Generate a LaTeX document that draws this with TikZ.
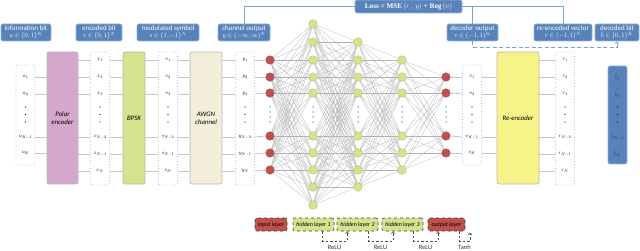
\documentclass[tikz,border=0pt]{standalone}
\usepackage{fontspec}
\setmainfont{Carlito}
\newfontfamily\lossfont{Liberation Serif}
\newcommand\smath[2]{\scalebox{#1}{\fontsize{10}{12}\selectfont$#2$}}
\usetikzlibrary{backgrounds,calc,arrows.meta}
\definecolor{lblue}{RGB}{88,130,186}
\definecolor{lblueedge}{RGB}{150,180,220}
\definecolor{conn}{RGB}{125,160,210}
\definecolor{polarc}{RGB}{212,168,204}
\definecolor{bpskc}{RGB}{214,226,140}
\definecolor{awgnc}{RGB}{243,238,218}
\definecolor{reencc}{RGB}{246,244,136}
\definecolor{redc}{RGB}{192,80,77}
\definecolor{greenc}{RGB}{214,226,140}
\definecolor{dotblue}{RGB}{70,114,196}
\definecolor{coledge}{RGB}{160,188,225}
\tikzset{
  lab/.style={rounded corners=2pt, fill=lblue, draw=lblueedge, line width=0.6pt, text=white, align=center, font=\fontsize{7}{7.4}\selectfont, inner sep=0pt, minimum height=17pt},
  colbox/.style={rounded corners=2pt, draw=coledge, dotted, line width=0.7pt, fill=white, inner sep=0pt, minimum width=19pt},
  block/.style={rounded corners=2pt, draw=gray!55, line width=0.7pt, inner sep=0pt, minimum height=132pt, align=center, font=\fontsize{6.8}{8}\selectfont\itshape},
  ent/.style={inner sep=0pt},
  conline/.style={draw=gray!45, line width=0.8pt},
  lossline/.style={draw=conn, line width=0.8pt},
  meshline/.style={draw=gray!60, line width=0.25pt},
  rcirc/.style={circle, fill=redc, draw=redc!85!black, line width=0.3pt, minimum size=8.6pt, inner sep=0pt},
  gcirc/.style={circle, fill=greenc, draw=greenc!80!black, line width=0.3pt, minimum size=8.6pt, inner sep=0pt},
  legbox/.style={rounded corners=2pt, draw=black!75, dashed, line width=0.6pt, minimum height=13pt, inner sep=0pt, font=\fontsize{6}{6}\selectfont\itshape},
  actarrow/.style={draw=black!70, dash pattern=on 2.5pt off 2pt, line width=0.5pt, -{Straight Barb[length=2pt,width=3.5pt]}},
  actlab/.style={font=\fontsize{6.5}{6.5}\selectfont, text=black!80, inner sep=0pt},
  bluedot/.style={circle, fill=dotblue, minimum size=1.5pt, inner sep=0pt},
  blackdot/.style={circle, fill=black, minimum size=1.3pt, inner sep=0pt},
}
\begin{document}
\begin{tikzpicture}[x=1pt,y=-1pt]
\useasboundingbox (0,0) rectangle (640,251);

% ---------- label boxes ----------
\node[lab, minimum width=50pt] (linfo) at (26,32.5) {information bit\\\smath{0.66}{u\in\{0,1\}^K}};
\node[lab, minimum width=46pt] (lenc) at (99,32.5) {encoded bit\\\smath{0.66}{x\in\{0,1\}^N}};
\node[lab, minimum width=62pt] (lmod) at (168,32.5) {modulated symbol\\\smath{0.66}{s\in\{1,-1\}^N}};
\node[lab, minimum width=52pt] (lchan) at (244,32.5) {channel output\\\smath{0.66}{y\in(-\infty,\infty)^N}};
\node[lab, minimum width=51pt] (ldec) at (472.5,32.5) {decoder output\\\smath{0.66}{v\in(-1,1)^K}};
\node[lab, minimum width=58pt] (lre) at (563,32.5) {re-encoded vector\\\smath{0.66}{r\in(-1,1)^N}};
\node[lab, minimum width=44pt] (lbit) at (617,32.5) {decoded bit\\\smath{0.66}{\hat{b}\in\{0,1\}^K}};
\node[lab, minimum width=107pt, minimum height=13pt, font=\fontsize{7.2}{7.2}\lossfont\bfseries] (loss) at (408.5,6.5) {Loss = MSE\,\smath{0.72}{(r\,,\,y)} + Reg\,\smath{0.72}{(v)}};

\draw[lossline] (lchan.north) |- (loss.west);
\draw[lossline] (loss.east) -| (lre.north);
\draw[lossline] (ldec.north) -- (ldec.north |- loss.east);
\draw[lossline, dash pattern=on 4pt off 2.5pt, -{Straight Barb[length=2pt,width=3.5pt]}] (ldec.south) -- ++(0,6) -| (lbit.south);

% ---------- blocks ----------
\node[block, fill=polarc, minimum width=31pt] (polar) at (62.5,118) {Polar\\encoder};
\node[block, fill=bpskc, minimum width=22pt] (bpsk) at (134,118) {BPSK};
\node[block, fill=awgnc, minimum width=32pt] (awgn) at (206,118) {AWGN\\channel};
\node[block, fill=reencc, minimum width=42pt] (reenc) at (518,118) {Re-encoder};

% ---------- columns ----------
\node[colbox, minimum height=100pt] (ucol) at (25.5,115) {};
\node[colbox, minimum height=133pt] (xcol) at (100,118.5) {};
\node[colbox, minimum height=133pt] (scol) at (168,118.5) {};
\node[colbox, minimum height=133pt] (ycol) at (245,118.5) {};
\node[colbox, minimum height=100pt] (vcol) at (472,115) {};
\node[colbox, minimum height=133pt] (rcol) at (565,118.5) {};
\node[rounded corners=2pt, fill=lblue, draw=lblueedge, line width=0.6pt, minimum width=19pt, minimum height=98pt, inner sep=0pt] (bcol) at (617.5,115) {};

% entries, N-type
\foreach \n/\yy/\lab in {1/60/1,2/77/2,3/94/3,4/137/{N-2},5/154/{N-1},6/171/N}{
  \node[ent] (x\n) at (100,\yy) {\smath{0.55}{x_{\lab}}};
  \node[ent] (s\n) at (168,\yy) {\smath{0.55}{s_{\lab}}};
  \node[ent] (y\n) at (245,\yy) {\smath{0.55}{y_{\lab}}};
  \node[ent] (r\n) at (565,\yy) {\smath{0.55}{r_{\lab}}};
}
% entries, K-type
\foreach \n/\yy/\lab in {1/77/1,2/94/2,3/137/{K-1},4/153/K}{
  \node[ent] (u\n) at (25.5,\yy) {\smath{0.55}{u_{\lab}}};
  \node[ent] (v\n) at (472,\yy) {\smath{0.55}{v_{\lab}}};
  \node[ent, text=black!80] (bh\n) at (617.5,\yy) {\smath{0.55}{\hat{b}_{\lab}}};
}
% vertical dots in columns
\foreach \cx in {25.5,100,168,245,472,565,617.5}{
  \foreach \dy in {107,114.5,122}{
    \node[blackdot] at (\cx,\dy) {};
  }
}

% ---------- connection lines ----------
\foreach \n in {1,...,4}{
  \draw[conline] (u\n -| ucol.east) -- (u\n -| polar.west);
  \draw[conline] (v\n -| vcol.east) -- (v\n -| reenc.west);
}
\foreach \n in {1,...,6}{
  \draw[conline] (x\n -| polar.east) -- (x\n -| xcol.west);
  \draw[conline] (x\n -| xcol.east) -- (x\n -| bpsk.west);
  \draw[conline] (s\n -| bpsk.east) -- (s\n -| scol.west);
  \draw[conline] (s\n -| scol.east) -- (s\n -| awgn.west);
  \draw[conline] (y\n -| awgn.east) -- (y\n -| ycol.west);
  \draw[conline] (r\n -| reenc.east) -- (r\n -| rcol.west);
}

% ---------- network ----------
\foreach \n/\yy in {1/60,2/77,3/93,4/136,5/153,6/170}{
  \node[rcirc] (in\n) at (270,\yy) {};
}
\foreach \n/\yy in {1/24,2/42,3/60,4/77,5/93,6/136,7/153,8/170,9/187,10/205}{
  \node[gcirc] (ha\n) at (313,\yy) {};
}
\foreach \n/\yy in {1/42,2/60,3/77,4/93,5/136,6/153,7/170,8/187}{
  \node[gcirc] (hb\n) at (358,\yy) {};
}
\foreach \n/\yy in {1/60,2/77,3/93,4/136,5/153,6/170}{
  \node[gcirc] (hc\n) at (402,\yy) {};
}
\foreach \n/\yy in {1/77,2/93,3/136,4/153}{
  \node[rcirc] (out\n) at (446,\yy) {};
}
\foreach \cx in {270,313,358,402,446}{
  \foreach \dy in {107,112,117,122}{
    \node[bluedot] at (\cx,\dy) {};
  }
}
\begin{scope}[on background layer]
\foreach \p in {1,...,6}{\foreach \q in {1,...,10}{\draw[meshline] (in\p.center) -- (ha\q.center);}}
\foreach \p in {1,...,10}{\foreach \q in {1,...,8}{\draw[meshline] (ha\p.center) -- (hb\q.center);}}
\foreach \p in {1,...,8}{\foreach \q in {1,...,6}{\draw[meshline] (hb\p.center) -- (hc\q.center);}}
\foreach \p in {1,...,6}{\foreach \q in {1,...,4}{\draw[meshline] (hc\p.center) -- (out\q.center);}}
\end{scope}
\foreach \n in {1,...,6}{
  \draw[conline] (y\n -| ycol.east) -- (in\n.west);
}
\foreach \n in {1,...,4}{
  \draw[conline] (out\n.east) -- (v\n -| vcol.west);
}

% ---------- legend ----------
\node[legbox, fill=redc, minimum width=32pt] (lin) at (271,224.5) {input layer};
\node[legbox, fill=greenc, minimum width=41pt] (lha) at (313.5,224.5) {hidden layer 1};
\node[legbox, fill=greenc, minimum width=41pt] (lhb) at (357.5,224.5) {hidden layer 2};
\node[legbox, fill=greenc, minimum width=41pt] (lhc) at (402.5,224.5) {hidden layer 3};
\node[legbox, fill=redc, minimum width=37pt] (lout) at (446.5,224.5) {output layer};

\draw[actarrow] ($(lha.south)+(8.5,0)$) -- ++(0,10) -| ($(lhb.south)+(-10.5,0)$);
\draw[actarrow] ($(lhb.south)+(10.5,0)$) -- ++(0,10) -| ($(lhc.south)+(-9.5,0)$);
\draw[actarrow] ($(lhc.south)+(10.5,0)$) -- ++(0,10) -| ($(lout.south)+(-8.5,0)$);
\coordinate (tanhend) at (470,232.5);
\draw[actarrow] ($(lout.south)+(12.5,0)$) -- ++(0,10) -| (tanhend);
\node[actlab] (relu1) at (334.5,247.5) {ReLU};
\node[actlab] (relu2) at (380.5,247.5) {ReLU};
\node[actlab] (relu3) at (425.5,247.5) {ReLU};
\node[actlab] (tanh) at (464.5,247.5) {Tanh};
\end{tikzpicture}
\end{document}
